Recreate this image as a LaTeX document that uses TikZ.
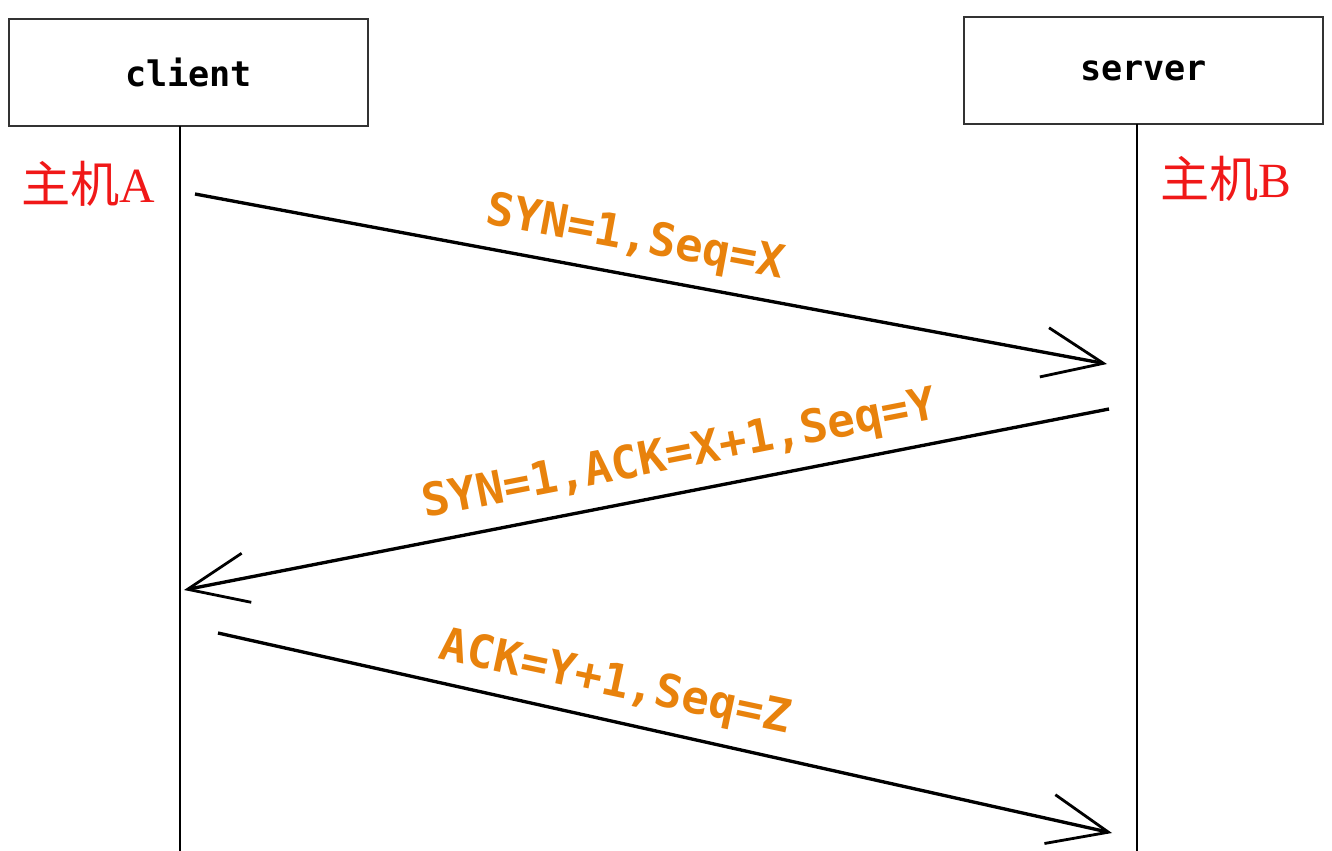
\documentclass[tikz,border=0pt]{standalone}
\usepackage{fontspec}
\setmainfont{Liberation Serif}
\newfontfamily\monofont{DejaVu Sans Mono}
\newfontfamily\cjkfont{Noto Sans CJK SC}
\newfontfamily\serifA{Liberation Serif}
\usetikzlibrary{arrows.meta}
\definecolor{lblorange}{HTML}{E8820C}
\definecolor{hostred}{HTML}{F01818}
\definecolor{boxline}{HTML}{333333}
\begin{document}
\begin{tikzpicture}[x=0.02cm,y=-0.02cm,
  actor/.style={draw=boxline,line width=1.1pt,minimum width=7.18cm,minimum height=2.14cm,inner sep=0pt,
    font=\monofont\bfseries\fontsize{20}{24}\selectfont},
  lifeline/.style={line width=1.4pt,black},
  msg/.style={line width=1.9pt,black,-{Straight Barb[length=1.2cm,width=1.0cm,line width=1.6pt]}},
  lbl/.style={text=lblorange,font=\monofont\bfseries\fontsize{26}{30}\selectfont,inner sep=0pt},
  host/.style={text=hostred,font=\fontsize{28}{32}\selectfont,inner sep=0pt}]
\useasboundingbox (0,0) rectangle (1332,851);
% actors
\node[actor] (client) at (188.5,72.5) {client};
\node[actor] (server) at (1143.5,70.5) {server};
% lifelines
\coordinate (cTop) at (180,126);
\coordinate (cBot) at (180,851);
\coordinate (sTop) at (1137,124);
\coordinate (sBot) at (1137,851);
\draw[lifeline] (cTop) -- (cBot);
\draw[lifeline] (sTop) -- (sBot);
% host labels
\node[host] (hostA) at (88,184) {\cjkfont 主机\serifA A};
\node[host] (hostB) at (1226,179) {\cjkfont 主机\serifA B};
% messages
\coordinate (m1s) at (195,194);
\coordinate (m1e) at (1107,364);
\coordinate (m2s) at (1109,409);
\coordinate (m2e) at (184,590);
\coordinate (m3s) at (218,633);
\coordinate (m3e) at (1112,833);
\draw[msg] (m1s) -- (m1e);
\draw[msg] (m2s) -- (m2e);
\draw[msg] (m3s) -- (m3e);
% message labels
\node[lbl,rotate=-10.5] (l1) at (635,239) {SYN=1,Seq=X};
\node[lbl,rotate=11] (l2) at (680,456) {SYN=1,ACK=X+1,Seq=Y};
\node[lbl,rotate=-12] (l3) at (615,684) {ACK=Y+1,Seq=Z};
\end{tikzpicture}
\end{document}
